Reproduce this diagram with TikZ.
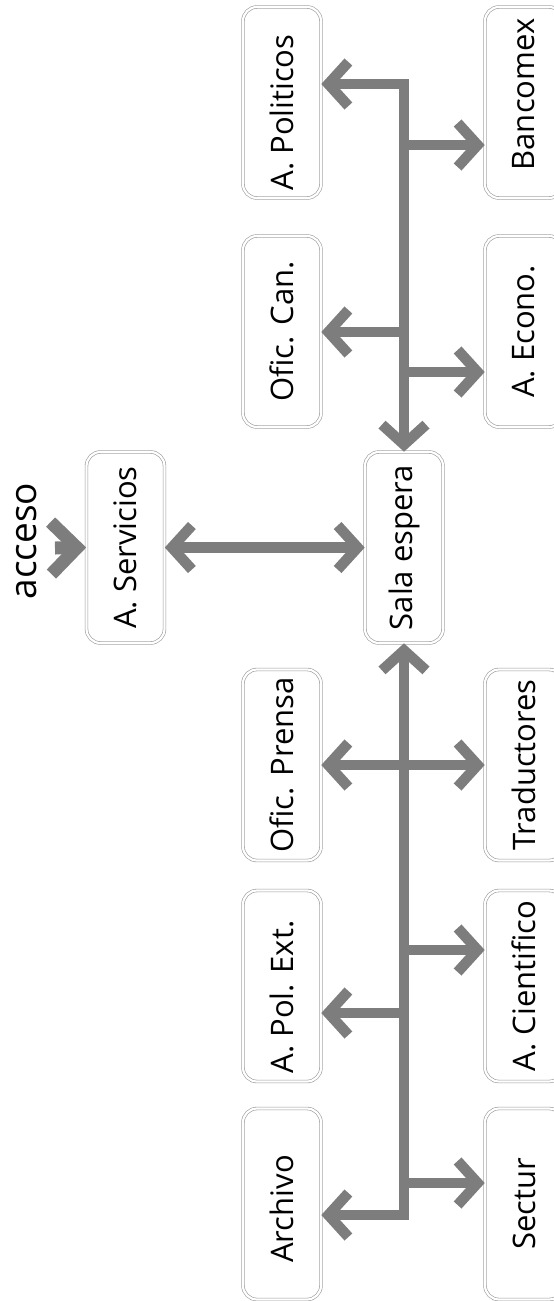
\documentclass[tikz,border=0pt]{standalone}
\usepackage{graphicx}
\usepackage{fontspec}
\setmainfont{Open Sans}
\usetikzlibrary{arrows.meta}
\definecolor{arrgray}{gray}{0.49}
\definecolor{boxgray}{gray}{0.6}
\tikzset{
  box/.style={draw=boxgray, double=white, double distance=2.2pt, line width=0.6pt,
    rounded corners=14pt, minimum width=78pt, minimum height=191pt, inner sep=0pt,
    font=\fontsize{31}{31}\selectfont},
  conn/.style={draw=arrgray, line width=10.5pt, line join=miter},
  tipA/.style={-{Straight Barb[sharp,length=20pt,width=44pt]}},
  tipB/.style={{Straight Barb[sharp,length=20pt,width=44pt]}-{Straight Barb[sharp,length=20pt,width=44pt]}},
  bigconn/.style={draw=arrgray, line width=13pt, -{Straight Barb[sharp,length=26pt,width=52pt]}},
}
\begin{document}
\begin{tikzpicture}[x=1pt,y=-1pt]
\useasboundingbox (0,0) rectangle (554,1301);
\clip (0,0) rectangle (554,1301);
% left column
\node[box] (apol) at (282,102.5) {\rotatebox{90}{A. Politicos\hspace{20pt}}};
\node[box] (ocan) at (282,331.5) {\rotatebox{90}{Ofic. Can.}};
\node[box] (opre) at (282,765) {\rotatebox{90}{Ofic. Prensa}};
\node[box] (apex) at (282,986) {\rotatebox{90}{A. Pol. Ext.\hspace{22pt}}};
\node[box] (arch) at (282,1204) {\rotatebox{90}{Archivo\hspace{10pt}}};
% right column
\node[box] (banc) at (524,102.5) {\rotatebox{90}{\hspace{16pt}Bancomex}};
\node[box] (aeco) at (524,331.5) {\rotatebox{90}{A. Econo.}};
\node[box] (trad) at (524,765) {\rotatebox{90}{Traductores}};
\node[box] (acie) at (524,986) {\rotatebox{90}{A. Cientifico}};
\node[box] (sect) at (524,1204) {\rotatebox{90}{Sectur}};
% middle
\node[box] (serv) at (125.5,547.5) {\rotatebox{90}{A. Servicios}};
\node[box] (sala) at (404,547.5) {\rotatebox{90}{Sala espera}};
\node[font=\fontsize{37}{37}\selectfont, inner sep=0pt] (acc) at (27,541) {\rotatebox{90}{acceso}};
% connectors
\coordinate (ttop) at (404,84);
\coordinate (tbot) at (404,1215);
\draw[conn,tipB] (ttop -| apol.east) -- (ttop) -- (sala.north);
\draw[conn,tipB] (tbot -| arch.east) -- (tbot) -- (sala.south);
\coordinate (jb) at (404,145);
\coordinate (jc) at (404,332);
\coordinate (je) at (404,372);
\coordinate (jp) at (404,765);
\coordinate (ji) at (404,950);
\coordinate (jx) at (404,1013);
\coordinate (js) at (404,1183);
\draw[conn,tipA] (jb) -- (jb -| banc.west);
\draw[conn,tipA] (jc) -- (jc -| ocan.east);
\draw[conn,tipA] (je) -- (je -| aeco.west);
\draw[conn,tipB] (jp -| opre.east) -- (jp -| trad.west);
\draw[conn,tipA] (ji) -- (ji -| acie.west);
\draw[conn,tipA] (jx) -- (jx -| apex.east);
\draw[conn,tipA] (js) -- (js -| sect.west);
\draw[conn,tipB] (serv.east) -- (sala.west);
\coordinate (accin) at (55,548);
\draw[bigconn] (accin) -- (serv.west);
\end{tikzpicture}
\end{document}
